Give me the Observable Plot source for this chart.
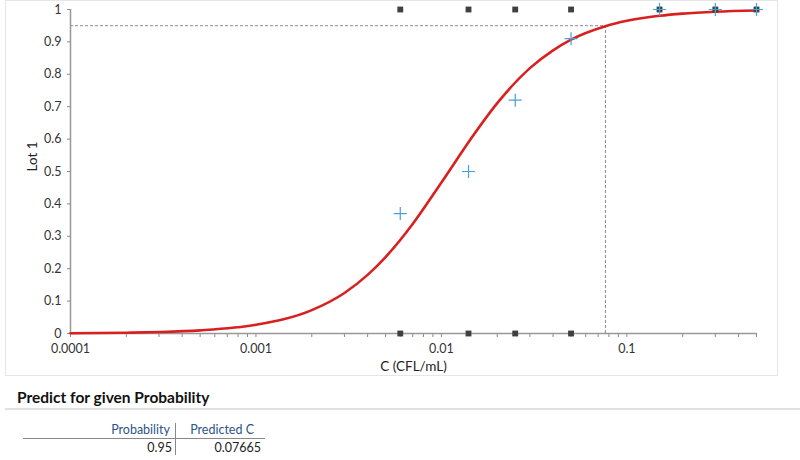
<!DOCTYPE html>
<html><head><meta charset="utf-8">
<script src="https://cdn.jsdelivr.net/npm/d3@7"></script>
<script src="https://cdn.jsdelivr.net/npm/@observablehq/plot@0.6"></script>
<style>
body{margin:0;background:#fff;font-family:Lato,"Open Sans",sans-serif;}
#wrap{position:relative;width:800px;height:460px;overflow:hidden;}
#frame{position:absolute;left:5px;top:0px;width:771px;height:374px;border:1px solid #e6e6e6;}
#chart{position:absolute;left:0;top:0;}
#head{position:absolute;left:17px;top:388px;font-weight:bold;font-size:15.5px;color:#111;}
#hline{position:absolute;left:5px;top:408px;width:795px;height:0;border-top:2px solid #e2e2e2;}
.cell{position:absolute;font-size:12.5px;text-align:right;color:#222;}
.hd{color:#2d5587;}
</style></head>
<body><div id="wrap"><div id="frame"></div><div id="chart"></div>
<div id="head">Predict for given Probability</div><div id="hline"></div>
<div id="tbl"></div></div>
<script>
// observed concentrations and outcomes
const conc = [0.006, 0.014, 0.025, 0.05, 0.15, 0.3, 0.5];
const proportion = [0.37, 0.5, 0.72, 0.91, 1, 1, 1];
const negConc = [0.006, 0.014, 0.025, 0.05];
const posConc = [0.006, 0.014, 0.025, 0.05, 0.15, 0.3, 0.5];
// fitted curve
const curveC = [0.0001, 0.0002, 0.0003, 0.0005, 0.001, 0.002, 0.003, 0.004, 0.005, 0.007, 0.01, 0.015, 0.02, 0.03, 0.04, 0.05, 0.07665, 0.1, 0.15, 0.2, 0.3, 0.5];
const curveP = [0.0009, 0.0025, 0.0045, 0.0097, 0.027, 0.072, 0.125, 0.181, 0.236, 0.338, 0.466, 0.615, 0.711, 0.819, 0.874, 0.907, 0.9485, 0.965, 0.9805, 0.9873, 0.993, 0.9967];
// prediction
const predProb = [0.95];
const predC = [0.07665];
const yTicks = [0, 0.1, 0.2, 0.3, 0.4, 0.5, 0.6, 0.7, 0.8, 0.9, 1];
const xMajor = [0.0001, 0.001, 0.01, 0.1];
const xMajorLabels = ["0.0001", "0.001", "0.01", "0.1"];
const xLabel = "C (CFL/mL)";
const yLabel = "Lot 1";

const xTicksAll = [];
for (const d of xMajor) for (let k = 1; k <= 9; k++) { const v = d * k; if (v <= 0.5 + 1e-9) xTicksAll.push(+v.toPrecision(3)); }

const curve = curveC.map((c, i) => ({c, p: curveP[i]}));
const props = conc.map((c, i) => ({c, p: proportion[i]}));
const neg = negConc.map(c => ({c, p: 0}));
const pos = posConc.map(c => ({c, p: 1}));
const pred = predC.map((c, i) => ({c, p: predProb[i]}));

const thinPlus = {draw(ctx, size) { const r = Math.sqrt(size / Math.PI); ctx.moveTo(-r, 0); ctx.lineTo(r, 0); ctx.moveTo(0, -r); ctx.lineTo(0, r); }};

const chart = Plot.plot({
  width: 800, height: 378,
  marginTop: 9, marginBottom: 45, marginLeft: 70, marginRight: 44,
  style: {fontFamily: "Lato, 'Open Sans', sans-serif", fontSize: "12.5px", color: "#333", background: "transparent"},
  x: {type: "log", domain: [0.0001, 0.5]},
  y: {domain: [0, 1]},
  marks: [
    Plot.ruleY(pred, {y: "p", x1: 0.0001, x2: "c", stroke: "#8c8c8c", strokeDasharray: "3,2"}),
    Plot.ruleX(pred, {x: "c", y1: 0, y2: "p", stroke: "#8c8c8c", strokeDasharray: "3,2"}),
    Plot.axisY({ticks: yTicks, tickFormat: d => String(d), tickSize: 3, tickPadding: 6, stroke: "#888", label: null, fontSize: 12.5}),
    Plot.axisX({ticks: xTicksAll, tickFormat: d => { const i = xMajor.findIndex(m => Math.abs(m - d) / m < 1e-6); return i >= 0 ? xMajorLabels[i] : ""; },
      tickSize: 4, tickPadding: 7, stroke: "#888", label: null, fontSize: 12.5}),
    Plot.text([xLabel], {frameAnchor: "bottom", dy: 37, fontSize: 13.5, fill: "#222"}),
    Plot.text([yLabel], {frameAnchor: "left", dx: -38, rotate: -90, fontSize: 13.5, fill: "#222"}),
    Plot.ruleX([0.0001], {stroke: "#999", strokeWidth: 1.5}),
    Plot.ruleY([0], {stroke: "#999", strokeWidth: 1.5}),
    Plot.line(curve, {x: "c", y: "p", stroke: "#d92020", strokeWidth: 2.6, curve: "monotone-x"}),
    Plot.dot(neg, {x: "c", y: "p", symbol: "square", r: 3.3, fill: "#404040", stroke: "none"}),
    Plot.dot(pos, {x: "c", y: "p", symbol: "square", r: 3.3, fill: "#404040", stroke: "none"}),
    Plot.dot(props, {x: "c", y: "p", symbol: thinPlus, r: 6.5, stroke: "#4a9fd6", strokeWidth: 1.2, fill: "none"})
  ]
});
document.getElementById("chart").appendChild(chart);

// table
const tbl = document.getElementById("tbl");
tbl.innerHTML = `
<div class="cell hd" style="left:60px;top:422px;width:110px;">Probability</div>
<div class="cell hd" style="left:180px;top:422px;width:74px;">Predicted C</div>
<div style="position:absolute;left:23px;top:438px;width:242px;border-top:1px solid #888;"></div>
<div style="position:absolute;left:175px;top:423px;height:32px;border-left:1px solid #888;"></div>
<div class="cell" style="left:100px;top:440px;width:72px;">${predProb[0]}</div>
<div class="cell" style="left:180px;top:440px;width:81px;">${predC[0]}</div>`;
</script></body></html>
